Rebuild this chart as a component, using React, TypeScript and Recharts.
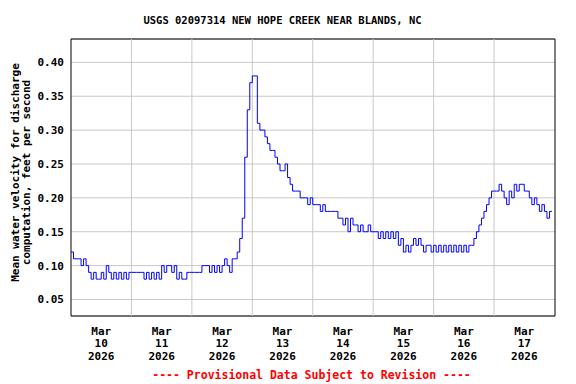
import React from "react";
import {
  LineChart,
  Line,
  XAxis,
  YAxis,
  CartesianGrid,
  ReferenceLine,
  ReferenceArea,
} from "recharts";

// hourly readings, Mar 10 00:00 .. Mar 17 23:00 (ft/s)
const velocity = [
  // Mar 10
  0.12, 0.11, 0.11, 0.11, 0.10, 0.11, 0.10, 0.09, 0.08, 0.09, 0.08, 0.08,
  0.09, 0.08, 0.10, 0.09, 0.08, 0.09, 0.08, 0.09, 0.08, 0.09, 0.08, 0.09,
  // Mar 11
  0.09, 0.09, 0.09, 0.09, 0.09, 0.08, 0.09, 0.08, 0.09, 0.08, 0.09, 0.08,
  0.10, 0.09, 0.10, 0.10, 0.09, 0.10, 0.08, 0.09, 0.08, 0.08, 0.09, 0.09,
  // Mar 12
  0.09, 0.09, 0.09, 0.09, 0.10, 0.10, 0.10, 0.09, 0.10, 0.09, 0.10, 0.09,
  0.10, 0.11, 0.10, 0.09, 0.11, 0.11, 0.12, 0.14, 0.17, 0.26, 0.33, 0.37,
  // Mar 13
  0.38, 0.38, 0.31, 0.30, 0.30, 0.29, 0.28, 0.27, 0.27, 0.26, 0.25, 0.24,
  0.24, 0.25, 0.23, 0.22, 0.21, 0.21, 0.21, 0.20, 0.20, 0.20, 0.19, 0.20,
  // Mar 14
  0.19, 0.19, 0.19, 0.18, 0.19, 0.18, 0.18, 0.18, 0.18, 0.18, 0.17, 0.17,
  0.16, 0.17, 0.15, 0.17, 0.16, 0.16, 0.15, 0.16, 0.15, 0.15, 0.16, 0.15,
  // Mar 15
  0.15, 0.15, 0.14, 0.15, 0.14, 0.15, 0.14, 0.15, 0.14, 0.15, 0.13, 0.14,
  0.12, 0.13, 0.12, 0.13, 0.14, 0.13, 0.14, 0.13, 0.12, 0.13, 0.13, 0.12,
  // Mar 16
  0.13, 0.12, 0.13, 0.12, 0.13, 0.12, 0.13, 0.12, 0.13, 0.12, 0.13, 0.12,
  0.13, 0.12, 0.13, 0.13, 0.14, 0.15, 0.16, 0.17, 0.18, 0.19, 0.20, 0.21,
  // Mar 17
  0.21, 0.21, 0.22, 0.21, 0.20, 0.19, 0.21, 0.20, 0.22, 0.21, 0.22, 0.22,
  0.21, 0.21, 0.20, 0.19, 0.20, 0.19, 0.18, 0.19, 0.18, 0.17, 0.18, 0.18,
];

const dayLabels = ["10", "11", "12", "13", "14", "15", "16", "17"];
const monthLabel = "Mar";
const yearLabel = "2026";
const labelHours = [12, 36, 60, 84, 108, 132, 156, 180];
const dayBounds = [24, 48, 72, 96, 120, 144, 168];
const yTicks = [0.05, 0.1, 0.15, 0.2, 0.25, 0.3, 0.35, 0.4];
const xDomain = [0, 192.2];
const yDomain = [0.0256, 0.4345];

const data = velocity.map((v, i) => ({ h: i, v }));

const FONT = "'DejaVu Sans Mono', monospace";

const DayTick = (props: any) => {
  const { x, y, payload } = props;
  const i = labelHours.indexOf(payload.value);
  const common = {
    x,
    textAnchor: "middle" as const,
    fontFamily: FONT,
    fontWeight: "bold",
    fontSize: 11,
    fill: "#000",
  };
  return (
    <g>
      <text {...common} y={y + 18.5}>{monthLabel}</text>
      <text {...common} y={y + 31}>{dayLabels[i]}</text>
      <text {...common} y={y + 43.5}>{yearLabel}</text>
    </g>
  );
};

export default function App() {
  return (
    <div style={{ position: "absolute", left: 0, top: 0, width: 576, height: 384, background: "#fff" }}>
      <LineChart
        width={576}
        height={384}
        data={data}
        margin={{ top: 39, right: 21, left: 0, bottom: 0 }}
      >
        <CartesianGrid vertical={false} stroke="#c8c8c8" strokeWidth={1} />
        {dayBounds.map((d) => (
          <ReferenceLine key={d} x={d} stroke="#c8c8c8" strokeWidth={1} />
        ))}
        <XAxis
          dataKey="h"
          type="number"
          domain={xDomain}
          ticks={labelHours}
          interval={0}
          tick={<DayTick />}
          tickLine={false}
          tickSize={0}
          tickMargin={0}
          axisLine={false}
          height={68}
          allowDataOverflow
        />
        <YAxis
          type="number"
          domain={yDomain}
          ticks={yTicks}
          interval={0}
          tickFormatter={(v: number) => v.toFixed(2)}
          tick={{ fontFamily: FONT, fontWeight: "bold", fontSize: 11, fill: "#000" }}
          tickLine={false}
          tickSize={0}
          tickMargin={7}
          axisLine={false}
          width={71}
          allowDataOverflow
        />
        <Line
          type="stepAfter"
          dataKey="v"
          stroke="#0000ff"
          strokeWidth={1}
          dot={false}
          isAnimationActive={false}
        />
        <ReferenceArea
          x1={xDomain[0]}
          x2={xDomain[1]}
          y1={yDomain[0]}
          y2={yDomain[1]}
          fill="none"
          stroke="#000"
          strokeWidth={1}
          ifOverflow="visible"
        />
      </LineChart>
      <svg
        width={576}
        height={384}
        style={{ position: "absolute", left: 0, top: 0, pointerEvents: "none" }}
      >
        <text x={282.5} y={24} textAnchor="middle" fontFamily={FONT} fontWeight="bold" fontSize={10.5}>
          USGS 02097314 NEW HOPE CREEK NEAR BLANDS, NC
        </text>
        <g fontFamily={FONT} fontWeight="bold" fontSize={11} textAnchor="middle">
          <text transform="translate(19,172.5) rotate(-90)">Mean water velocity for discharge</text>
          <text transform="translate(30,172.5) rotate(-90)">computation, feet per second</text>
        </g>
        <text x={311.5} y={379} textAnchor="middle" fontFamily={FONT} fontWeight="bold" fontSize={11.5} fill="#ff0000">
          ---- Provisional Data Subject to Revision ----
        </text>
      </svg>
    </div>
  );
}
